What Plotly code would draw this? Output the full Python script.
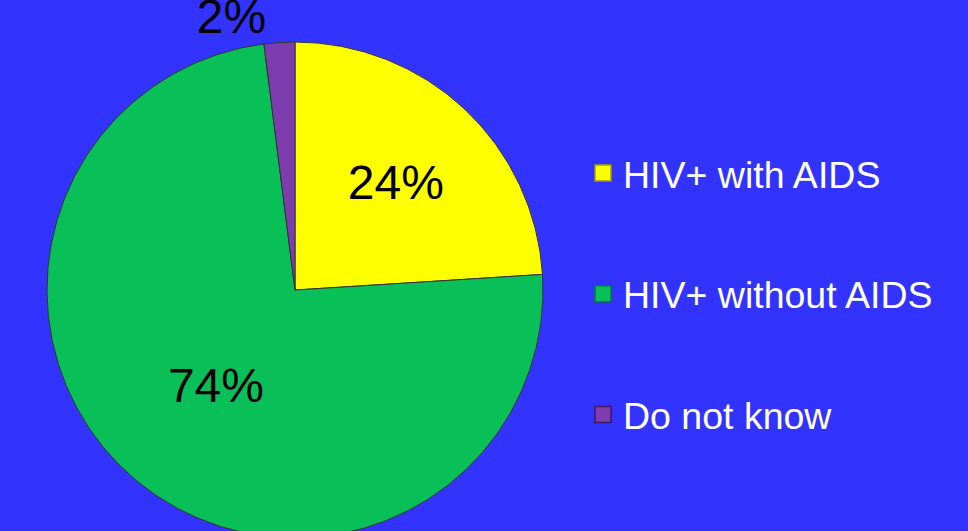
import plotly.graph_objects as go

labels = ["HIV+ with AIDS", "HIV+ without AIDS", "Do not know"]
values = [24, 74, 2]
colors = ["#FFFF00", "#08BF58", "#7D3DAE"]
edge_colors = ["#A0A000", "#067A38", "#3F1A5C"]
text_pos = ["inside", "inside", "outside"]

# page taller than the window: the pie runs off the bottom edge like the original
W, H = 968, 560

fig = go.Figure()

fig.add_trace(go.Pie(
    labels=labels,
    values=values,
    sort=False,
    direction="clockwise",
    rotation=0,
    texttemplate="%{percent:.0%}",
    textposition=text_pos,
    insidetextorientation="horizontal",
    textfont=dict(family="Liberation Sans, Arial, sans-serif", size=48, color="black"),
    marker=dict(colors=colors, line=dict(color="#333333", width=1)),
    domain=dict(x=[47 / W, 543 / W], y=[1 - 538 / H, 1 - 42 / H]),
    showlegend=False,
    hoverinfo="label+percent",
))

# legend entries (pie slices can't be spaced apart in one legend)
for lab, col, edge in zip(labels, colors, edge_colors):
    fig.add_trace(go.Scatter(
        x=[None], y=[None],
        mode="markers",
        name=lab,
        legendgroup=lab,
        marker=dict(symbol="square", size=16, color=col, line=dict(color=edge, width=1.5)),
        hoverinfo="skip",
    ))

fig.update_layout(
    width=W,
    height=H,
    margin=dict(l=0, r=0, t=0, b=0, autoexpand=False),
    paper_bgcolor="#3333FF",
    plot_bgcolor="#3333FF",
    xaxis=dict(visible=False),
    yaxis=dict(visible=False),
    legend=dict(
        x=583 / W,
        xanchor="left",
        y=1 - 142 / H,
        yanchor="top",
        bgcolor="rgba(0,0,0,0)",
        font=dict(family="Liberation Sans, Arial, sans-serif", size=37.5, color="white"),
        tracegroupgap=69,
        traceorder="grouped",
        itemclick=False,
    ),
)

fig.write_html(
    "out.html",
    config=dict(displayModeBar=False),
    post_script="document.body.style.margin='0';document.body.style.overflow='hidden';",
)
